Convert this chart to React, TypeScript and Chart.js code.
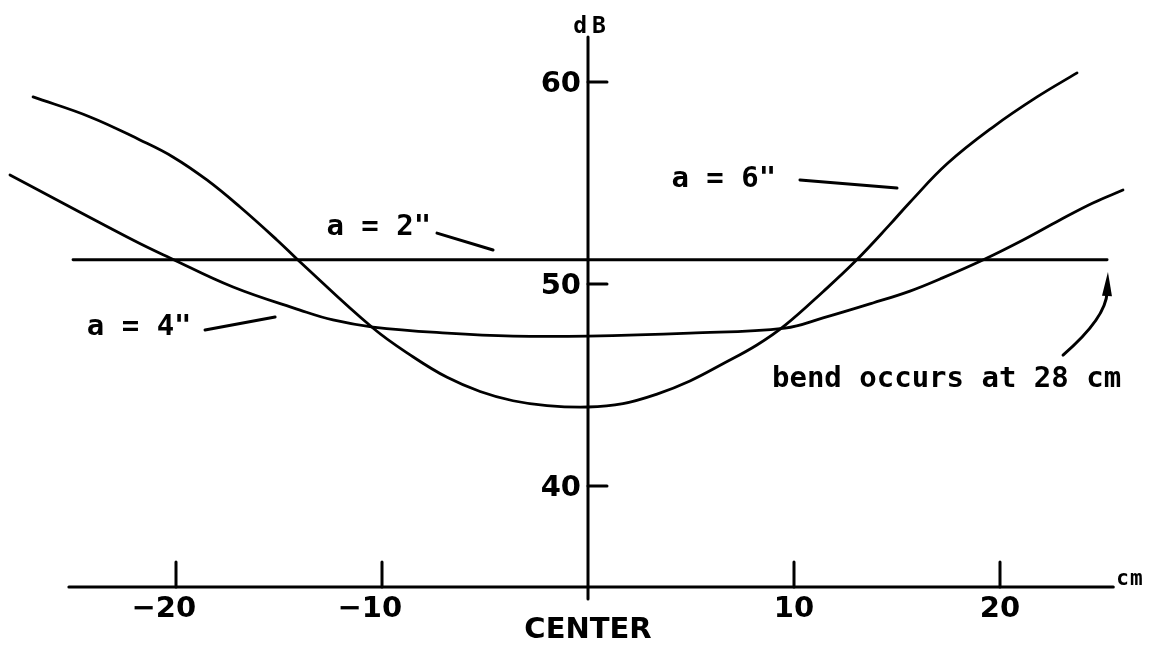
import { useEffect, useRef } from "react";
import { Chart, registerables } from "chart.js";

Chart.register(...registerables);

// Sound level across the panel for three spacings "a"
const CM_A2 = [-25.0, 25.2];
const DB_A2 = [51.2, 51.2];

const CM_A4 = [-28.06, -22.09, -20.29, -17.23, -13.98, -12.38, -10.44, -6.84, -3.64, 0, 4.95, 9.56, 11.41, 13.83, 15.63, 17.09, 19.17, 21.12, 22.91, 24.51, 25.97];
const DB_A4 = [55.4, 52.18, 51.29, 49.85, 48.71, 48.22, 47.87, 47.57, 47.42, 47.42, 47.57, 47.82, 48.32, 49.06, 49.65, 50.25, 51.19, 52.18, 53.17, 54.01, 54.65];

const CM_A6 = [-26.94, -24.17, -21.75, -20.15, -18.5, -16.89, -15.1, -14.08, -10.44, -8.5, -6.84, -5.24, -3.64, -1.99, 0, 1.7, 3.35, 4.95, 6.55, 8.2, 9.56, 11.41, 13.01, 14.66, 15.63, 17.43, 19.66, 21.8, 23.74];
const DB_A6 = [59.26, 58.27, 57.13, 56.29, 55.15, 53.81, 52.18, 51.19, 47.82, 46.4, 45.38, 44.68, 44.22, 43.98, 43.91, 44.08, 44.55, 45.2, 46.05, 46.98, 47.95, 49.62, 51.16, 52.95, 54.05, 55.95, 57.77, 59.26, 60.45];

// Axes
const X_TICKS = [-20, -10, 0, 10, 20];
const X_TICK_LABELS = ["\u221220", "\u221210", "CENTER", "10", "20"];
const Y_TICKS = [40, 50, 60];
const Y_TICK_LABELS = ["40", "50", "60"];
const X_UNIT = "cm";
const Y_UNIT = "dB";
const X_AXIS_AT_DB = 35;
const X_AXIS_SPAN = [-25.2, 25.5];
const Y_AXIS_SPAN = [34.4, 62.23];
const X_RANGE = [-28.544, 27.864];
const Y_RANGE = [32.079, 64.059];

// Curve labels with their leader strokes
const CURVE_LABELS = ['a = 2"', 'a = 4"', 'a = 6"'];
const LABEL_CM = [-12.7, -24.33, 4.05];
const LABEL_DB = [52.43, 47.48, 54.8];
const LEADER_FROM_CM = [-7.33, -18.59, 10.29];
const LEADER_FROM_DB = [52.52, 47.72, 55.15];
const LEADER_TO_CM = [-4.61, -15.19, 15.0];
const LEADER_TO_DB = [51.68, 48.37, 54.75];

// Note about the end of the a = 2" line
const NOTE_TEXT = "bend occurs at 28 cm";
const NOTE_CM = 8.93;
const NOTE_DB = 44.9;
const ARROW_CM = [23.06, 25.15, 25.24];
const ARROW_DB = [46.48, 48.32, 50.59];

const INK = "#000000";

const drawingPlugin = {
  id: "originAxes",
  afterDatasetsDraw(chart: any) {
    const { ctx } = chart;
    const xs = chart.scales.x;
    const ys = chart.scales.y;
    const px = (v: number) => xs.getPixelForValue(v);
    const py = (v: number) => ys.getPixelForValue(v);
    const x0 = px(0);
    const yBase = py(X_AXIS_AT_DB);

    ctx.save();
    ctx.strokeStyle = INK;
    ctx.fillStyle = INK;
    ctx.lineCap = "round";
    ctx.lineWidth = 3;

    // axis lines
    ctx.beginPath();
    ctx.moveTo(px(X_AXIS_SPAN[0]), yBase);
    ctx.lineTo(px(X_AXIS_SPAN[1]), yBase);
    ctx.stroke();
    ctx.beginPath();
    ctx.moveTo(x0, py(Y_AXIS_SPAN[0]));
    ctx.lineTo(x0, py(Y_AXIS_SPAN[1]));
    ctx.stroke();

    // tick marks
    X_TICKS.forEach((v) => {
      if (v === 0) return;
      ctx.beginPath();
      ctx.moveTo(px(v), yBase);
      ctx.lineTo(px(v), yBase - 25);
      ctx.stroke();
    });
    Y_TICKS.forEach((v) => {
      ctx.beginPath();
      ctx.moveTo(x0, py(v));
      ctx.lineTo(x0 + 19, py(v));
      ctx.stroke();
    });

    // tick labels
    ctx.font = 'bold 29px "DejaVu Sans"';
    ctx.textBaseline = "alphabetic";
    X_TICKS.forEach((v, i) => {
      const label = X_TICK_LABELS[i];
      const p = px(v);
      if (v === 0) {
        ctx.textAlign = "center";
        ctx.fillText(label, p, yBase + 51);
        return;
      }
      const digits = label.replace("\u2212", "");
      const dw = ctx.measureText(digits).width;
      const fw = ctx.measureText(label).width;
      ctx.textAlign = "left";
      ctx.fillText(label, p + dw / 2 - fw, yBase + 30);
    });
    ctx.textAlign = "right";
    Y_TICKS.forEach((v, i) => {
      ctx.fillText(Y_TICK_LABELS[i], x0 - 7, py(v) + 10.5);
    });

    // axis units
    ctx.font = 'bold 23px "DejaVu Sans Mono"';
    ctx.textAlign = "center";
    (ctx as any).letterSpacing = "5px";
    ctx.fillText(Y_UNIT, x0 + 4, py(Y_AXIS_SPAN[1]) - 4);
    (ctx as any).letterSpacing = "1px";
    ctx.font = 'bold 21px "DejaVu Sans Mono"';
    ctx.textAlign = "left";
    ctx.fillText(X_UNIT, px(X_AXIS_SPAN[1]) + 3, yBase - 2);
    (ctx as any).letterSpacing = "0px";

    // curve labels and leaders
    ctx.font = 'bold 29px "DejaVu Sans Mono"';
    ctx.textAlign = "left";
    CURVE_LABELS.forEach((t, i) => {
      ctx.fillText(t, px(LABEL_CM[i]), py(LABEL_DB[i]));
      ctx.beginPath();
      ctx.moveTo(px(LEADER_FROM_CM[i]), py(LEADER_FROM_DB[i]));
      ctx.lineTo(px(LEADER_TO_CM[i]), py(LEADER_TO_DB[i]));
      ctx.stroke();
    });

    // note with curved arrow
    ctx.fillText(NOTE_TEXT, px(NOTE_CM), py(NOTE_DB));
    const ax = ARROW_CM.map(px);
    const ay = ARROW_DB.map(py);
    const headLen = 24;
    const dx = ax[2] - ax[1];
    const dy = ay[2] - ay[1];
    const len = Math.hypot(dx, dy) || 1;
    const ux = dx / len;
    const uy = dy / len;
    const bx = ax[2] - ux * headLen;
    const by = ay[2] - uy * headLen;
    ctx.beginPath();
    ctx.moveTo(ax[0], ay[0]);
    ctx.quadraticCurveTo(ax[1], ay[1], bx + ux * 4, by + uy * 4);
    ctx.stroke();
    ctx.beginPath();
    ctx.moveTo(ax[2], ay[2]);
    ctx.lineTo(bx - uy * 5, by + ux * 5);
    ctx.lineTo(bx + uy * 5, by - ux * 5);
    ctx.closePath();
    ctx.fill();

    ctx.restore();
  },
};

const series = (xsArr: number[], ysArr: number[]) => xsArr.map((x, i) => ({ x, y: ysArr[i] }));

export default function App() {
  const canvasRef = useRef<HTMLCanvasElement | null>(null);

  useEffect(() => {
    document.body.style.margin = "0";
    document.body.style.background = "#ffffff";
    const canvas = canvasRef.current;
    if (!canvas) return;
    const lineStyle = {
      borderColor: INK,
      borderWidth: 2.8,
      pointRadius: 0,
      fill: false,
      tension: 0.4,
      borderCapStyle: "round" as const,
      borderJoinStyle: "round" as const,
    };
    const chart = new Chart(canvas, {
      type: "line",
      data: {
        datasets: [
          { label: CURVE_LABELS[0], data: series(CM_A2, DB_A2), ...lineStyle },
          { label: CURVE_LABELS[1], data: series(CM_A4, DB_A4), ...lineStyle },
          { label: CURVE_LABELS[2], data: series(CM_A6, DB_A6), ...lineStyle },
        ],
      },
      options: {
        animation: false,
        responsive: false,
        devicePixelRatio: 1,
        events: [],
        layout: { padding: 0 },
        plugins: { legend: { display: false }, tooltip: { enabled: false } },
        scales: {
          x: { type: "linear", min: X_RANGE[0], max: X_RANGE[1], display: false },
          y: { type: "linear", min: Y_RANGE[0], max: Y_RANGE[1], display: false },
        },
      },
      plugins: [drawingPlugin],
    });
    return () => chart.destroy();
  }, []);

  return (
    <div style={{ width: 1162, height: 646, background: "#ffffff" }}>
      <canvas ref={canvasRef} width={1162} height={646} style={{ display: "block" }} />
    </div>
  );
}
